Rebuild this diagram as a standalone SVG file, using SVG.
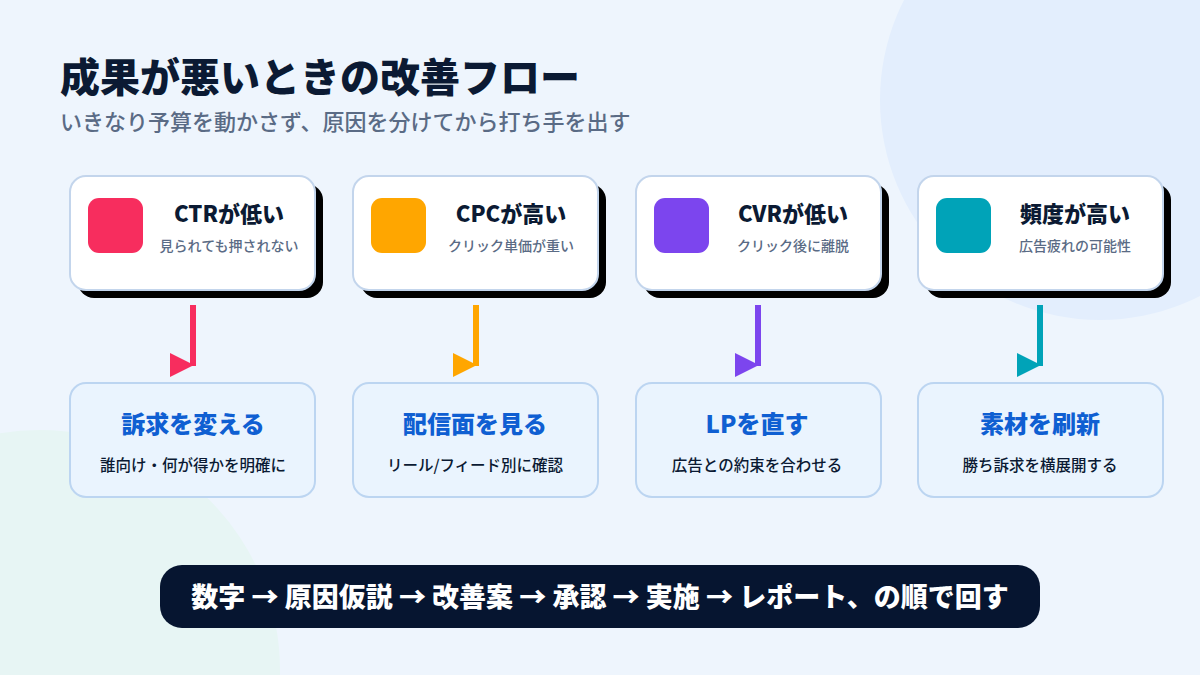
<svg xmlns="http://www.w3.org/2000/svg" width="1200" height="675" viewBox="0 0 1200 675">
<defs>
<style>
text{font-family:"Noto Sans CJK JP","Noto Sans",sans-serif;}
.card{fill:#ffffff;stroke:#c3d5ec;stroke-width:2;}
.shadow{fill:#000000;}
.ttl{font-size:22px;font-weight:900;fill:#0b1a33;text-anchor:middle;}
.sub{font-size:14px;font-weight:500;fill:#5a6b85;text-anchor:middle;}
.box{fill:#eaf4fe;stroke:#bcd5f1;stroke-width:2;}
.bttl{font-size:24px;font-weight:900;fill:#0f5fd2;text-anchor:middle;}
.bsub{font-size:15.5px;font-weight:500;fill:#0b1a33;text-anchor:middle;}
</style>
</defs>
<rect x="0" y="0" width="1200" height="675" fill="#eef5fd"/>
<circle cx="1100" cy="100" r="220" fill="#e3eefd"/>
<circle cx="40" cy="670" r="240" fill="#e7f5f4"/>
<g id="title">
<text x="60" y="92" font-size="40" font-weight="900" fill="#0b1a33">成果が悪いときの改善フロー</text>
<text x="60" y="130" font-size="22" font-weight="500" fill="#5a6b85">いきなり予算を動かさず、原因を分けてから打ち手を出す</text>
</g>
<g id="connectors">
<rect x="190" y="305" width="6" height="61" fill="#f72d5e"/>
<polygon points="170,353 170,377 194,365" fill="#f72d5e"/>
<rect x="473" y="305" width="6" height="61" fill="#ffa600"/>
<polygon points="453,353 453,377 477,365" fill="#ffa600"/>
<rect x="755" y="305" width="6" height="61" fill="#7c45ee"/>
<polygon points="735,353 735,377 759,365" fill="#7c45ee"/>
<rect x="1037" y="305" width="6" height="61" fill="#00a3b8"/>
<polygon points="1017,353 1017,377 1041,365" fill="#00a3b8"/>
</g>
<g id="n1">
<rect class="shadow" x="78" y="184" width="245" height="114" rx="16"/>
<rect class="card" x="70" y="176" width="245" height="114" rx="16"/>
<rect x="88" y="198" width="55" height="55" rx="11" fill="#f72d5e"/>
<text class="ttl" x="229" y="222">CTRが低い</text>
<text class="sub" x="229" y="251">見られても押されない</text>
</g>
<g id="n2">
<rect class="shadow" x="361" y="184" width="245" height="114" rx="16"/>
<rect class="card" x="353" y="176" width="245" height="114" rx="16"/>
<rect x="371" y="198" width="55" height="55" rx="11" fill="#ffa600"/>
<text class="ttl" x="511" y="222">CPCが高い</text>
<text class="sub" x="511" y="251">クリック単価が重い</text>
</g>
<g id="n3">
<rect class="shadow" x="644" y="184" width="245" height="114" rx="16"/>
<rect class="card" x="636" y="176" width="245" height="114" rx="16"/>
<rect x="654" y="198" width="55" height="55" rx="11" fill="#7c45ee"/>
<text class="ttl" x="793" y="222">CVRが低い</text>
<text class="sub" x="793" y="251">クリック後に離脱</text>
</g>
<g id="n4">
<rect class="shadow" x="926" y="184" width="245" height="114" rx="16"/>
<rect class="card" x="918" y="176" width="245" height="114" rx="16"/>
<rect x="936" y="198" width="55" height="55" rx="11" fill="#00a3b8"/>
<text class="ttl" x="1075" y="222">頻度が高い</text>
<text class="sub" x="1075" y="251">広告疲れの可能性</text>
</g>
<g id="b1">
<rect class="box" x="70" y="383" width="245" height="114" rx="16"/>
<text class="bttl" x="193" y="433">訴求を変える</text>
<text class="bsub" x="193" y="471">誰向け・何が得かを明確に</text>
</g>
<g id="b2">
<rect class="box" x="353" y="383" width="245" height="114" rx="16"/>
<text class="bttl" x="475" y="433">配信面を見る</text>
<text class="bsub" x="475" y="471">リール/フィード別に確認</text>
</g>
<g id="b3">
<rect class="box" x="636" y="383" width="245" height="114" rx="16"/>
<text class="bttl" x="757" y="433">LPを直す</text>
<text class="bsub" x="757" y="471">広告との約束を合わせる</text>
</g>
<g id="b4">
<rect class="box" x="918" y="383" width="245" height="114" rx="16"/>
<text class="bttl" x="1040" y="433">素材を刷新</text>
<text class="bsub" x="1040" y="471">勝ち訴求を横展開する</text>
</g>
<g id="banner">
<rect x="160" y="565" width="880" height="63" rx="22" fill="#061530"/>
<text x="600" y="607" font-size="27" font-weight="900" fill="#ffffff" text-anchor="middle">数字 → 原因仮説 → 改善案 → 承認 → 実施 → レポート、の順で回す</text>
</g>
</svg>
